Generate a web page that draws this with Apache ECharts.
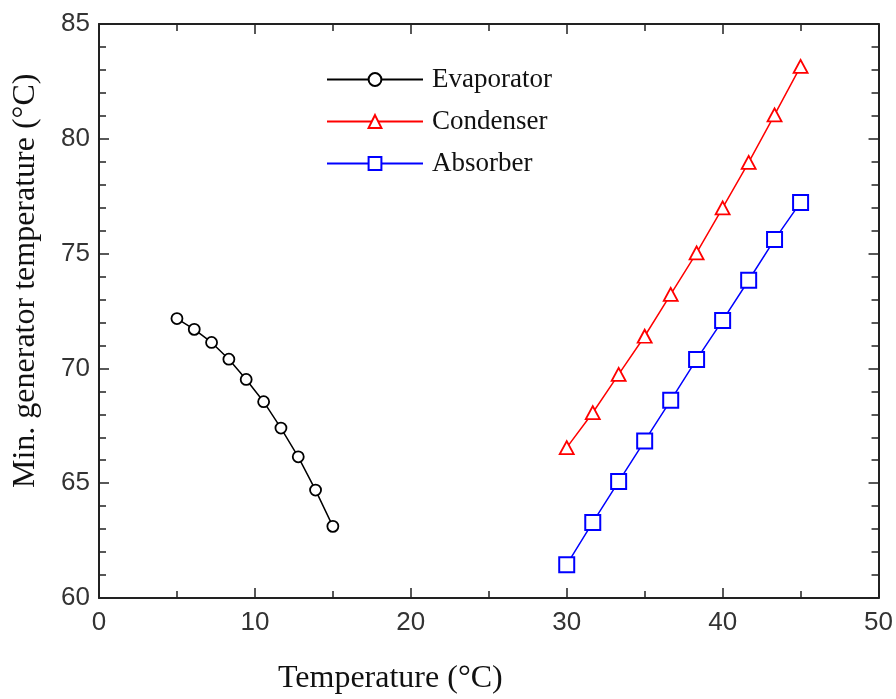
<!DOCTYPE html>
<html>
<head>
<meta charset="utf-8">
<script src="https://cdn.jsdelivr.net/npm/echarts@6/dist/echarts.min.js"></script>
<style>html,body{margin:0;padding:0;background:#fff}#c{width:896px;height:699px}</style>
</head>
<body>
<div id="c"></div>
<script>
var evapX = [5, 6.11, 7.22, 8.33, 9.44, 10.56, 11.67, 12.78, 13.89, 15];
var evapY = [72.17, 71.7, 71.13, 70.4, 69.52, 68.55, 67.4, 66.15, 64.7, 63.12];
var condX = [30, 31.67, 33.33, 35, 36.67, 38.33, 40, 41.67, 43.33, 45];
var condY = [66.55, 68.07, 69.74, 71.4, 73.22, 75.03, 76.99, 78.97, 81.04, 83.15];
var absX = [30, 31.67, 33.33, 35, 36.67, 38.33, 40, 41.67, 43.33, 45];
var absY = [61.45, 63.29, 65.07, 66.84, 68.61, 70.39, 72.09, 73.84, 75.61, 77.23];
var seriesNames = ['Evaporator', 'Condenser', 'Absorber'];
var xTitle = 'Temperature (°C)';
var yTitle = 'Min. generator temperature (°C)';

function pairs(xs, ys) { return xs.map(function (x, i) { return [x, ys[i]]; }); }

var chart = echarts.init(document.getElementById('c'), null, {renderer: 'canvas'});
var axisLine = {show: true, onZero: false, lineStyle: {color: '#222', width: 2}};
var tick = {show: true, inside: true, length: 10, lineStyle: {color: '#222', width: 1.5}};
var labelFont = {fontFamily: 'Liberation Sans', fontSize: 26, color: '#333'};
var serif = 'Liberation Serif';

chart.setOption({
  animation: false,
  backgroundColor: '#fff',
  grid: {left: 99, top: 24, right: 12, bottom: 101, containLabel: false},
  legend: {
    orient: 'vertical', left: 321, top: 59,
    itemWidth: 96, itemHeight: 16, itemGap: 11,
    textStyle: {fontFamily: serif, fontSize: 27, color: '#111', lineHeight: 31, padding: [0, 0, 0, 4]},
    data: seriesNames
  },
  xAxis: [{
    type: 'value', min: 0, max: 50, interval: 10, position: 'bottom',
    axisLine: axisLine, axisTick: tick,
    minorTick: {show: true, splitNumber: 2, length: 7, lineStyle: {color: '#222', width: 1.5}},
    splitLine: {show: false},
    axisLabel: Object.assign({margin: 12}, labelFont)
  }, {
    type: 'value', min: 0, max: 50, interval: 10, position: 'top',
    axisLine: axisLine, axisTick: tick,
    minorTick: {show: true, splitNumber: 2, length: 7, lineStyle: {color: '#222', width: 1.5}},
    splitLine: {show: false}, axisLabel: {show: false}
  }],
  yAxis: [{
    type: 'value', min: 60, max: 85, interval: 5, position: 'left',
    axisLine: axisLine, axisTick: tick,
    minorTick: {show: true, splitNumber: 5, length: 7, lineStyle: {color: '#222', width: 1.5}},
    splitLine: {show: false},
    axisLabel: Object.assign({margin: 9}, labelFont)
  }, {
    type: 'value', min: 60, max: 85, interval: 5, position: 'right',
    axisLine: axisLine, axisTick: tick,
    minorTick: {show: true, splitNumber: 5, length: 7, lineStyle: {color: '#222', width: 1.5}},
    splitLine: {show: false}, axisLabel: {show: false}
  }],
  graphic: [{
    type: 'text', left: 278, top: 663,
    style: {text: xTitle, font: '32px "Liberation Serif"', fill: '#111'}
  }, {
    type: 'text', x: 10, y: 488, rotation: Math.PI / 2,
    style: {text: yTitle, font: '32px "Liberation Serif"', fill: '#111', textAlign: 'left', textVerticalAlign: 'top'}
  }],
  series: [{
    name: seriesNames[0], type: 'line', data: pairs(evapX, evapY),
    symbol: 'circle', symbolSize: 11,
    lineStyle: {color: '#000', width: 1.5},
    itemStyle: {color: '#fff', borderColor: '#000', borderWidth: 1.8}
  }, {
    name: seriesNames[1], type: 'line', data: pairs(condX, condY),
    symbol: 'triangle', symbolSize: [14, 13],
    lineStyle: {color: '#ff0000', width: 1.5},
    itemStyle: {color: '#fff', borderColor: '#ff0000', borderWidth: 1.8}
  }, {
    name: seriesNames[2], type: 'line', data: pairs(absX, absY),
    symbol: 'rect', symbolSize: 15,
    lineStyle: {color: '#0000ff', width: 1.5},
    itemStyle: {color: '#fff', borderColor: '#0000ff', borderWidth: 2}
  }]
});
</script>
</body>
</html>
